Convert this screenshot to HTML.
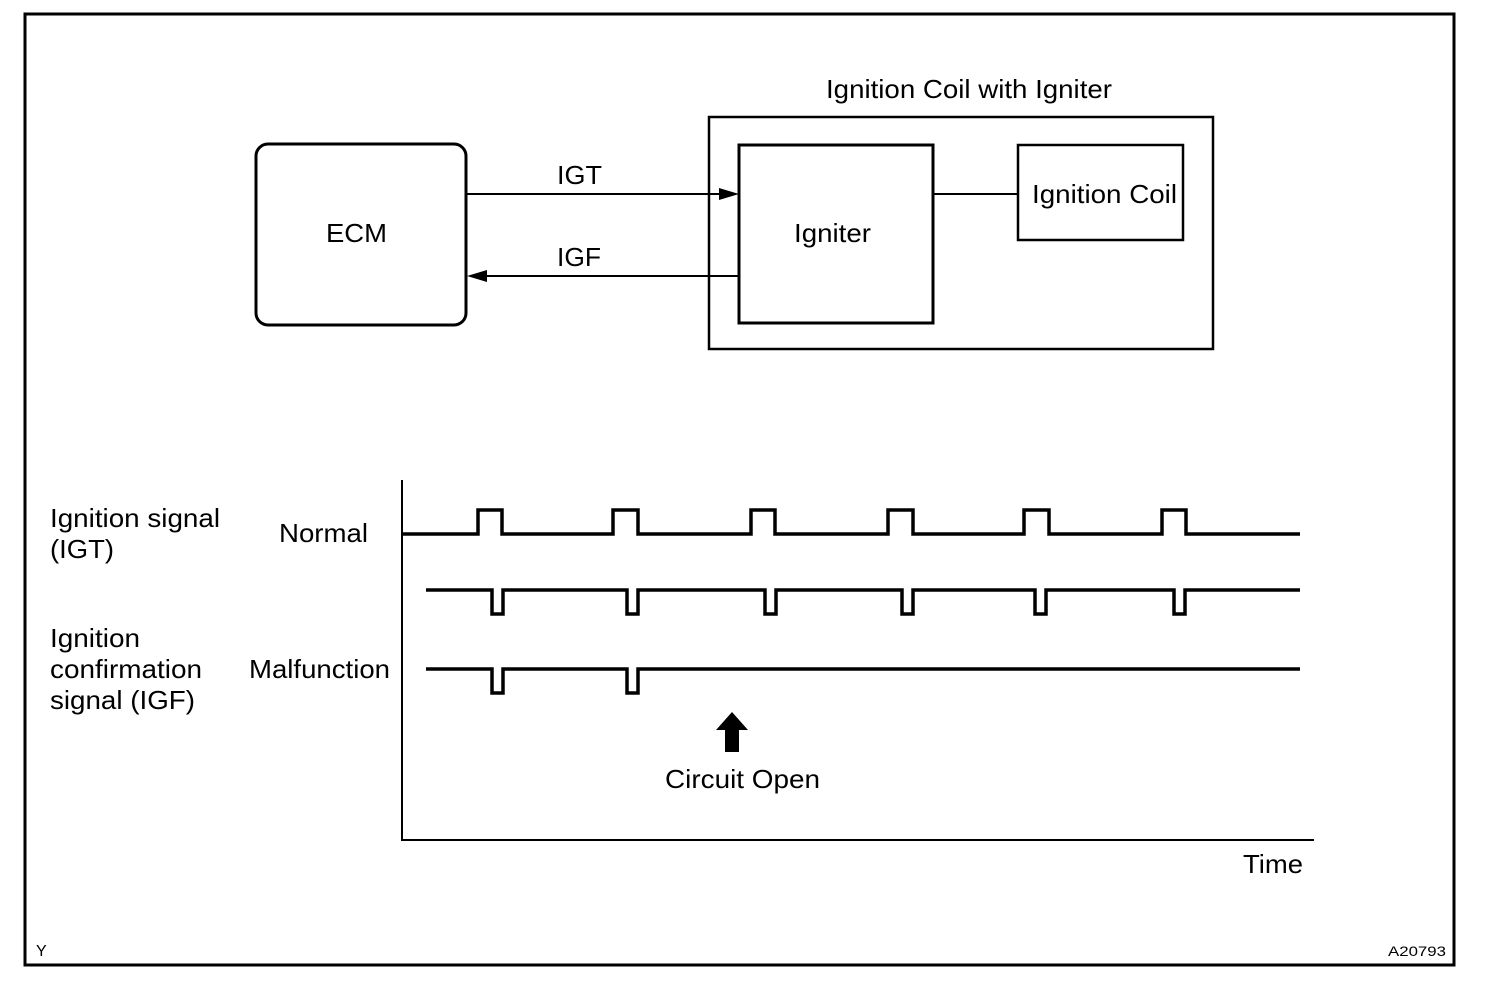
<!DOCTYPE html>
<html><head><style>body{margin:0;background:#fff}svg{display:block}text{font-family:"Liberation Sans",sans-serif;fill:#000}</style></head><body>
<svg width="1504" height="994" viewBox="0 0 1504 994">
<rect x="25" y="14" width="1429" height="951" fill="none" stroke="#000" stroke-width="3"/>
<text x="826" y="98" font-size="26" textLength="286" lengthAdjust="spacingAndGlyphs">Ignition Coil with Igniter</text>
<rect x="709" y="117" width="504" height="232" fill="none" stroke="#000" stroke-width="2.5"/>
<rect x="256" y="144" width="210" height="181" rx="12" fill="none" stroke="#000" stroke-width="3"/>
<text x="326" y="242" font-size="26" textLength="61" lengthAdjust="spacingAndGlyphs">ECM</text>
<rect x="739" y="145" width="194" height="178" fill="none" stroke="#000" stroke-width="3"/>
<text x="794" y="242" font-size="26" textLength="77" lengthAdjust="spacingAndGlyphs">Igniter</text>
<rect x="1018" y="145" width="165" height="95" fill="none" stroke="#000" stroke-width="2.5"/>
<text x="1032" y="203" font-size="26" textLength="145" lengthAdjust="spacingAndGlyphs">Ignition Coil</text>
<line x1="933" y1="194" x2="1018" y2="194" stroke="#000" stroke-width="2"/>
<line x1="467" y1="194" x2="722" y2="194" stroke="#000" stroke-width="2"/>
<polygon points="739,194 719,188 719,200" fill="#000"/>
<text x="557" y="184" font-size="26" textLength="45" lengthAdjust="spacingAndGlyphs">IGT</text>
<line x1="484" y1="276" x2="739" y2="276" stroke="#000" stroke-width="2"/>
<polygon points="467,276 487,270 487,282" fill="#000"/>
<text x="557" y="266" font-size="26" textLength="44" lengthAdjust="spacingAndGlyphs">IGF</text>
<line x1="402" y1="480" x2="402" y2="841" stroke="#000" stroke-width="2"/>
<line x1="402" y1="840" x2="1314" y2="840" stroke="#000" stroke-width="2"/>
<text x="1243" y="873" font-size="26" textLength="60" lengthAdjust="spacingAndGlyphs">Time</text>
<g fill="none" stroke="#000" stroke-width="3.5">
<path d="M402,534 H478 V510 H502 V534 H613 V510 H638 V534 H751 V510 H775 V534 H888 V510 H913 V534 H1024 V510 H1049 V534 H1162 V510 H1186 V534 H1300"/>
<path d="M426,590 H492 V614 H503 V590 H627 V614 H638 V590 H765 V614 H776 V590 H902 V614 H913 V590 H1035 V614 H1046 V590 H1174 V614 H1185 V590 H1300"/>
<path d="M426,669 H492 V693 H503 V669 H627 V693 H638 V669 H1300"/>
</g>
<polygon points="732,712 748,730 739,730 739,752 725,752 725,730 716,730" fill="#000"/>
<text x="665" y="788" font-size="26" textLength="155" lengthAdjust="spacingAndGlyphs">Circuit Open</text>
<text x="50" y="527" font-size="26" textLength="170" lengthAdjust="spacingAndGlyphs">Ignition signal</text>
<text x="50" y="558" font-size="26" textLength="64" lengthAdjust="spacingAndGlyphs">(IGT)</text>
<text x="279" y="542" font-size="26" textLength="89" lengthAdjust="spacingAndGlyphs">Normal</text>
<text x="50" y="647" font-size="26" textLength="90" lengthAdjust="spacingAndGlyphs">Ignition</text>
<text x="50" y="678" font-size="26" textLength="152" lengthAdjust="spacingAndGlyphs">confirmation</text>
<text x="50" y="709" font-size="26" textLength="145" lengthAdjust="spacingAndGlyphs">signal (IGF)</text>
<text x="249" y="678" font-size="26" textLength="141" lengthAdjust="spacingAndGlyphs">Malfunction</text>
<text x="36" y="956" font-size="16">Y</text>
<text x="1388" y="956" font-size="14" textLength="58" lengthAdjust="spacingAndGlyphs">A20793</text>
</svg>
</body></html>
